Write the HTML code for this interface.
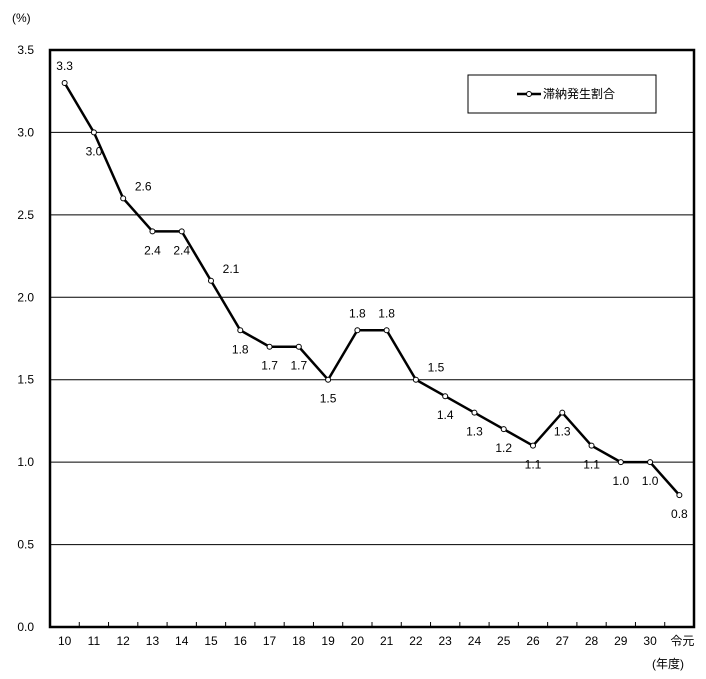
<!DOCTYPE html>
<html><head><meta charset="utf-8"><style>
body{margin:0;background:#fff;}
svg text{font-family:"Liberation Sans","Noto Sans CJK JP",sans-serif;font-size:12px;fill:#000;}
</style></head><body>
<svg id="c" width="706" height="674" xmlns="http://www.w3.org/2000/svg">
<text x="12" y="22">(%)</text>
<text x="652" y="668">(年度)</text>
<g id="grid"></g><g id="ticks"></g><g id="series"></g>
<rect x="468" y="75" width="188" height="38" fill="#fff" stroke="#000" stroke-width="1"/>
<line x1="517" y1="94" x2="541" y2="94" stroke="#000" stroke-width="2.5"/>
<circle cx="529" cy="94" r="2.5" fill="#fff" stroke="#000"/>
<text x="543" y="98" font-size="11">滞納発生割合</text>
</svg>
<script>
const categories=["10","11","12","13","14","15","16","17","18","19","20","21","22","23","24","25","26","27","28","29","30","令元"];
const values=[3.3,3.0,2.6,2.4,2.4,2.1,1.8,1.7,1.7,1.5,1.8,1.8,1.5,1.4,1.3,1.2,1.1,1.3,1.1,1.0,1.0,0.8];
const labelPos=["a","b","r","b","b","r","b","b","b","b","a","a","r","b","b","b","b","b","b","b","b","b"];
const yTicks=[0,0.5,1.0,1.5,2.0,2.5,3.0,3.5];
const NS="http://www.w3.org/2000/svg";
const L=50,R=694,T=50,B=627,YMAX=3.5;
const step=(R-L)/categories.length;
function xs(i){return L+step*(i+0.5);}
function ys(v){return B-(v/YMAX)*(B-T);}
function mk(t,a,p){const e=document.createElementNS(NS,t);for(const k in a)e.setAttribute(k,a[k]);(p||document.getElementById('c')).appendChild(e);return e;}
const grid=document.getElementById('grid'),ticks=document.getElementById('ticks'),ser=document.getElementById('series');
yTicks.forEach(v=>{
 if(v>0&&v<YMAX){const g=mk('line',{x1:L,x2:R,y1:ys(v),y2:ys(v),stroke:'#000','stroke-width':1},grid);
 
 }
 const t=mk('text',{x:34,y:ys(v)+4,'text-anchor':'end','font-size':13},ticks);t.textContent=v.toFixed(1);
 
 
});
const fr=mk('rect',{x:L,y:T,width:R-L,height:B-T,fill:'none',stroke:'#000','stroke-width':2.5},grid);


categories.forEach((c,i)=>{
 if(i>0){const tk=mk('line',{x1:L+step*i,x2:L+step*i,y1:B,y2:B-5,stroke:'#000'},ticks);
 
 }
 const t=mk('text',{x:xs(i)+(i===categories.length-1?3:0),y:645,'text-anchor':'middle','font-size':13},ticks);t.textContent=c;
 
 
});
const pl=mk('polyline',{points:values.map((v,i)=>xs(i)+','+ys(v)).join(' '),fill:'none',stroke:'#000','stroke-width':2.5,'stroke-linejoin':'round'},ser);


values.forEach((v,i)=>{
 const p=mk('circle',{cx:xs(i),cy:ys(v),r:2.5,fill:'#fff',stroke:'#000'},ser);
 
 
 let x=xs(i),y=ys(v);
 if(labelPos[i]==='a'){y-=13;}else if(labelPos[i]==='b'){y+=23;}else{x+=20;y-=8;}
 const t=mk('text',{x:x,y:y,'text-anchor':'middle'},ser);t.textContent=v.toFixed(1);
 
 
});
</script>
</body></html>
